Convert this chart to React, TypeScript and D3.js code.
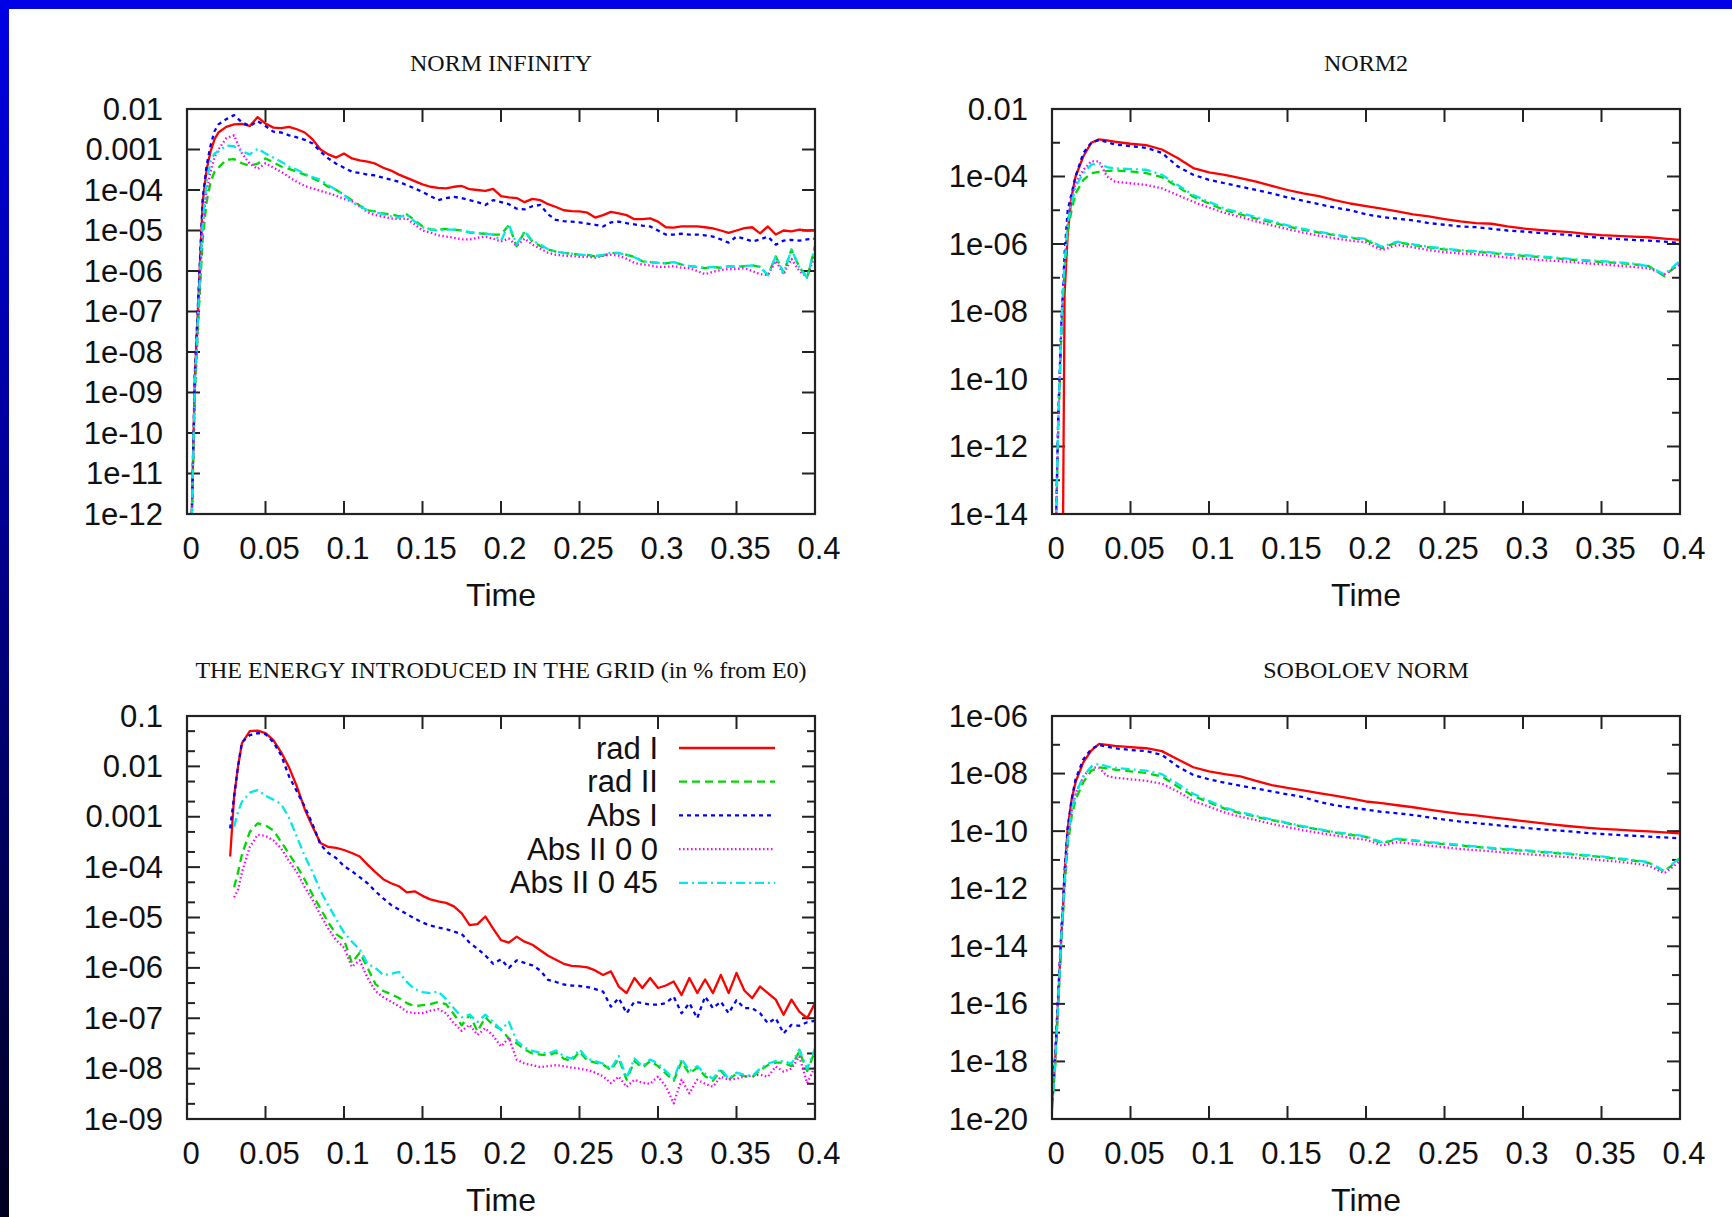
import React from 'react';
import * as d3 from 'd3';

// values are stored as log10 of the plotted quantity

const normInfTime = [
  0.0025, 0.005, 0.0075, 0.01, 0.0125, 0.015, 0.0175,
  0.02, 0.025, 0.03, 0.035, 0.04, 0.045, 0.05, 0.055, 0.06, 0.065, 0.07, 0.075, 0.08, 0.085, 0.09, 0.095, 0.1,
  0.105, 0.11, 0.115, 0.12, 0.125, 0.13, 0.135, 0.14, 0.145, 0.15, 0.155, 0.16, 0.165, 0.17, 0.175, 0.18, 0.185, 0.19, 0.195, 0.2,
  0.205, 0.21, 0.215, 0.22, 0.225, 0.23, 0.235, 0.24, 0.245, 0.25, 0.255, 0.26, 0.265, 0.27, 0.275, 0.28, 0.285, 0.29, 0.295, 0.3,
  0.305, 0.31, 0.315, 0.32, 0.325, 0.33, 0.335, 0.34, 0.345, 0.35, 0.355, 0.36, 0.365, 0.37, 0.375, 0.38, 0.385, 0.39, 0.395, 0.4,
];
const normInfRadI = [
  -13, -8.6, -6.5, -4.3, -3.5, -3.05, -2.75,
  -2.58, -2.44, -2.38, -2.37, -2.42, -2.2, -2.36, -2.46, -2.47, -2.44, -2.5, -2.58, -2.75, -3.0, -3.12, -3.2, -3.1,
  -3.22, -3.27, -3.3, -3.35, -3.45, -3.52, -3.62, -3.7, -3.78, -3.86, -3.92, -3.95, -3.96, -3.92, -3.9, -3.98, -4.0, -4.02, -3.97, -4.15,
  -4.18, -4.2, -4.3, -4.22, -4.25, -4.35, -4.42, -4.5, -4.52, -4.53, -4.56, -4.68, -4.62, -4.54, -4.58, -4.62, -4.72, -4.72, -4.7, -4.78,
  -4.92, -4.93, -4.9, -4.9, -4.9, -4.92, -4.95, -5.0, -5.06, -5.0, -4.94, -4.92, -5.07, -4.9, -5.1, -5.0, -5.02, -4.98, -5.0, -4.99,
];
const normInfRadII = [
  -13, -9, -7, -5.2, -4.3, -3.8, -3.55,
  -3.45, -3.25, -3.24, -3.34, -3.4, -3.35, -3.22, -3.32, -3.42, -3.48, -3.55, -3.62, -3.71, -3.8, -3.92, -4.0, -4.12,
  -4.25, -4.38, -4.5, -4.53, -4.58, -4.6, -4.65, -4.6, -4.75, -4.9, -4.97, -4.98, -4.96, -4.98, -5.0, -5.05, -5.07, -5.08, -5.1, -5.1,
  -4.87, -5.39, -5.03, -5.27, -5.38, -5.47, -5.52, -5.55, -5.57, -5.6, -5.6, -5.64, -5.62, -5.56, -5.55, -5.6, -5.65, -5.76, -5.78, -5.8,
  -5.81, -5.78, -5.84, -5.88, -5.9, -5.93, -5.9, -5.92, -5.88, -5.9, -5.88, -5.86, -5.9, -6.1, -5.64, -6.05, -5.47, -5.9, -6.17, -5.39,
];
const normInfAbsI = [
  -13, -8.5, -6.4, -4.2, -3.4, -2.9, -2.55,
  -2.38, -2.25, -2.15, -2.33, -2.42, -2.3, -2.42, -2.56, -2.58, -2.65, -2.7, -2.76, -2.85, -3.05, -3.22, -3.35, -3.45,
  -3.55, -3.58, -3.62, -3.64, -3.7, -3.75, -3.8, -3.88, -3.96, -4.05, -4.15, -4.25, -4.2, -4.17, -4.2, -4.25, -4.3, -4.37, -4.25, -4.3,
  -4.35, -4.46, -4.48, -4.4, -4.37, -4.6, -4.74, -4.77, -4.78, -4.8, -4.83, -4.86, -4.9, -4.8, -4.78, -4.82, -4.85, -4.88, -4.9, -5.0,
  -5.1, -5.1, -5.08, -5.1, -5.1, -5.12, -5.15, -5.22, -5.3, -5.15, -5.2, -5.27, -5.22, -5.15, -5.35, -5.25, -5.23, -5.25, -5.22, -5.2,
];
const normInfAbsII00 = [
  -13, -9, -6.9, -4.9, -4.0, -3.55, -3.2,
  -3.0, -2.72, -2.65, -3.1, -3.35, -3.48, -3.34, -3.45, -3.55, -3.68, -3.8, -3.9, -3.96, -4.02, -4.08, -4.14, -4.22,
  -4.28, -4.4, -4.55, -4.62, -4.66, -4.7, -4.72, -4.7, -4.85, -5.0, -5.05, -5.12, -5.15, -5.18, -5.22, -5.22, -5.18, -5.15, -5.2, -5.27,
  -5.2, -5.38, -5.2, -5.35, -5.45, -5.55, -5.6, -5.62, -5.63, -5.65, -5.65, -5.67, -5.62, -5.6, -5.62, -5.7, -5.8, -5.84, -5.86, -5.9,
  -5.9, -5.88, -5.92, -5.93, -6.0, -6.08, -6.02, -5.98, -5.95, -5.95, -5.93, -6.0, -6.08, -6.1, -5.75, -6.08, -5.7, -6.0, -6.15, -5.6,
];
const normInfAbsII045 = [
  -13, -8.8, -6.7, -4.8, -3.8, -3.3, -3.1,
  -3.05, -2.9, -2.92, -3.05, -3.12, -2.98, -3.1, -3.2, -3.3, -3.42, -3.5, -3.6, -3.68, -3.75, -3.88, -4.0, -4.12,
  -4.3, -4.4, -4.5, -4.55, -4.6, -4.65, -4.68, -4.6, -4.78, -4.92, -4.98, -5.0, -4.98, -4.98, -5.0, -5.04, -5.06, -5.08, -5.1, -5.25,
  -4.85, -5.35, -5.02, -5.25, -5.35, -5.46, -5.52, -5.55, -5.57, -5.6, -5.6, -5.63, -5.6, -5.55, -5.56, -5.6, -5.66, -5.76, -5.78, -5.8,
  -5.81, -5.78, -5.84, -5.88, -5.9, -5.92, -5.9, -5.92, -5.88, -5.9, -5.88, -5.86, -5.9, -6.1, -5.64, -6.05, -5.47, -5.9, -6.17, -5.39,
];

const smoothTime = [
  0, 0.002, 0.004, 0.006, 0.007, 0.008, 0.01, 0.0125, 0.015, 0.02, 0.025, 0.03, 0.035, 0.04,
  0.05, 0.06, 0.07, 0.08, 0.09, 0.1,
  0.11, 0.12, 0.13, 0.14, 0.15, 0.16, 0.17, 0.18, 0.19, 0.2,
  0.21, 0.22, 0.23, 0.24, 0.25, 0.26, 0.27, 0.28, 0.29, 0.3,
  0.31, 0.32, 0.33, 0.34, 0.35, 0.36, 0.37, 0.38, 0.39, 0.4,
];
const norm2RadI = [
  -16, -16, -16, -16, -14.5, -7.5, -5.7, -4.6, -4.0, -3.4, -3.0, -2.9, -2.93, -2.97,
  -3.03, -3.07, -3.2, -3.45, -3.75, -3.88,
  -3.95, -4.05, -4.15, -4.28, -4.4, -4.5, -4.58, -4.7, -4.8, -4.88,
  -4.95, -5.03, -5.12, -5.18, -5.26, -5.33, -5.38, -5.4, -5.48, -5.54,
  -5.58, -5.62, -5.65, -5.7, -5.74, -5.76, -5.78, -5.8, -5.84, -5.88,
];
const norm2RadII = [
  -16, -15.5, -11.5, -8.6, -7.6, -6.8, -5.6, -5.0, -4.5, -4.1, -3.9, -3.86, -3.84, -3.82,
  -3.85, -3.9, -4.02, -4.3, -4.6, -4.8,
  -5.0, -5.12, -5.25, -5.36, -5.48, -5.58, -5.66, -5.74, -5.82, -5.88,
  -6.12, -5.95, -6.03, -6.1, -6.16, -6.2, -6.23, -6.27, -6.31, -6.35,
  -6.38, -6.42, -6.46, -6.5, -6.53, -6.56, -6.6, -6.65, -6.95, -6.55,
];
const norm2AbsI = [
  -16, -15.5, -11, -8.3, -7.3, -6.3, -5.0, -4.5, -4.0, -3.3, -3.0, -2.92, -2.98, -3.05,
  -3.1, -3.15, -3.3, -3.7, -3.95, -4.1,
  -4.2, -4.3, -4.4, -4.5, -4.62, -4.72, -4.82, -4.92, -5.0, -5.12,
  -5.2, -5.25, -5.3, -5.38, -5.43, -5.48, -5.5, -5.55, -5.6, -5.63,
  -5.67, -5.7, -5.74, -5.78, -5.82, -5.85, -5.88, -5.9, -5.93, -5.97,
];
const norm2AbsII00 = [
  -16, -15.5, -11.3, -8.5, -7.5, -6.6, -5.3, -4.6, -4.2, -3.8, -3.55, -3.55, -4.0, -4.15,
  -4.2, -4.25, -4.35, -4.55, -4.75, -4.92,
  -5.08, -5.2, -5.33, -5.45, -5.56, -5.66, -5.75, -5.83, -5.9, -5.95,
  -6.18, -6.03, -6.1, -6.18, -6.24, -6.28, -6.3, -6.35, -6.4, -6.43,
  -6.47, -6.5, -6.53, -6.57, -6.6, -6.64, -6.68, -6.72, -6.9, -6.6,
];
const norm2AbsII045 = [
  -16, -15.5, -11.2, -8.4, -7.4, -6.6, -5.4, -4.8, -4.3, -3.9, -3.65, -3.62, -3.72, -3.76,
  -3.78, -3.8, -3.95, -4.25, -4.55, -4.75,
  -4.95, -5.08, -5.2, -5.32, -5.45, -5.55, -5.64, -5.72, -5.8, -5.85,
  -6.08, -5.93, -6.01, -6.08, -6.14, -6.18, -6.21, -6.25, -6.29, -6.33,
  -6.36, -6.4, -6.44, -6.48, -6.51, -6.54, -6.58, -6.66, -6.9, -6.5,
];

const sobolevRadI = [
  -19.5, -18.0, -15.8, -13.6, -12.7, -11.5, -9.9, -8.9, -8.3, -7.6, -7.2, -6.97, -7.0, -7.04,
  -7.08, -7.12, -7.22, -7.5, -7.78, -7.92,
  -8.02, -8.1, -8.25, -8.4, -8.5, -8.58, -8.68, -8.77, -8.86, -8.97,
  -9.03, -9.1, -9.17, -9.25, -9.33, -9.4, -9.45, -9.52, -9.58, -9.65,
  -9.71, -9.77, -9.83, -9.88, -9.92, -9.95, -9.98, -10.01, -10.04, -10.08,
];
const sobolevRadII = [
  -19.6, -18.2, -16.0, -13.8, -12.9, -12.0, -10.5, -9.5, -8.9, -8.3, -7.9, -7.78, -7.82, -7.86,
  -7.92, -7.98, -8.1, -8.45, -8.78, -9.0,
  -9.22, -9.38, -9.5, -9.62, -9.73, -9.85, -9.95, -10.05, -10.13, -10.2,
  -10.42, -10.28, -10.33, -10.4, -10.45, -10.5, -10.55, -10.6, -10.64, -10.68,
  -10.72, -10.76, -10.8, -10.85, -10.9, -10.96, -11.02, -11.1, -11.4, -10.95,
];
const sobolevAbsI = [
  -19.4, -17.8, -15.6, -13.4, -12.5, -11.4, -9.9, -8.9, -8.2, -7.5, -7.15, -7.0, -7.07, -7.12,
  -7.18, -7.22, -7.35, -7.75, -8.05, -8.2,
  -8.32, -8.42, -8.52, -8.62, -8.72, -8.82, -8.98, -9.1, -9.18, -9.25,
  -9.33, -9.38, -9.44, -9.52, -9.6, -9.67, -9.72, -9.77, -9.83, -9.88,
  -9.93, -9.97, -10.01, -10.06, -10.1, -10.13, -10.16, -10.19, -10.22, -10.25,
];
const sobolevAbsII00 = [
  -19.0, -17.9, -15.8, -13.6, -12.7, -11.8, -10.3, -9.3, -8.7, -8.1, -7.78, -7.8, -8.08, -8.14,
  -8.2, -8.25, -8.35, -8.62, -8.95, -9.15,
  -9.35, -9.5, -9.62, -9.75, -9.86, -9.97, -10.06, -10.15, -10.23, -10.3,
  -10.5, -10.38, -10.44, -10.5, -10.56, -10.62, -10.66, -10.7, -10.75, -10.79,
  -10.83, -10.87, -10.91, -10.96, -11.01, -11.06, -11.12, -11.2, -11.46, -11.05,
];
const sobolevAbsII045 = [
  -19.7, -18.1, -15.9, -13.6, -12.7, -11.8, -10.3, -9.3, -8.7, -8.1, -7.75, -7.66, -7.75, -7.8,
  -7.85, -7.9, -8.02, -8.35, -8.7, -8.95,
  -9.18, -9.34, -9.47, -9.6, -9.71, -9.83, -9.93, -10.03, -10.1, -10.18,
  -10.38, -10.26, -10.31, -10.38, -10.43, -10.48, -10.53, -10.58, -10.62, -10.66,
  -10.7, -10.74, -10.78, -10.83, -10.88, -10.94, -11.0, -11.08, -11.38, -10.92,
];

const energyTime = [
  0.0275, 0.03, 0.0325, 0.035,
  0.04, 0.045, 0.05, 0.055, 0.06, 0.065, 0.07, 0.075, 0.08, 0.085, 0.09, 0.095, 0.1,
  0.105, 0.11, 0.115, 0.12, 0.125, 0.13, 0.135, 0.14, 0.145, 0.15, 0.155, 0.16, 0.165, 0.17, 0.175, 0.18, 0.185, 0.19, 0.195, 0.2,
  0.205, 0.21, 0.215, 0.22, 0.225, 0.23, 0.235, 0.24, 0.245, 0.25, 0.255, 0.26, 0.265, 0.27, 0.275, 0.28, 0.285, 0.29, 0.295, 0.3,
  0.305, 0.31, 0.315, 0.32, 0.325, 0.33, 0.335, 0.34, 0.345, 0.35, 0.355, 0.36, 0.365, 0.37, 0.375, 0.38, 0.385, 0.39, 0.395, 0.4,
];
const energyRadI = [
  -3.79, -2.6, -2.0, -1.54,
  -1.3, -1.29, -1.34, -1.48, -1.72, -2.02, -2.4, -2.85, -3.2, -3.52, -3.6, -3.62, -3.66,
  -3.72, -3.79, -3.95, -4.1, -4.24, -4.32, -4.38, -4.5, -4.48, -4.57, -4.64, -4.68, -4.71, -4.78, -4.92, -5.15, -5.13, -4.98, -5.22, -5.45,
  -5.5, -5.38, -5.48, -5.54, -5.65, -5.76, -5.84, -5.92, -5.96, -5.97, -5.99, -6.05, -6.14, -6.07, -6.37, -6.5, -6.2, -6.4, -6.2, -6.4,
  -6.35, -6.27, -6.54, -6.2, -6.5, -6.23, -6.5, -6.14, -6.5, -6.1, -6.45, -6.6, -6.37, -6.5, -6.63, -6.93, -6.63, -6.87, -7.0, -6.7,
];
const energyRadII = [
  null, -4.4, -4.1, -3.75,
  -3.3, -3.13, -3.17, -3.27, -3.5, -3.74, -3.98, -4.25, -4.55, -4.82, -5.1, -5.33, -5.44,
  -5.9, -5.7, -6.0, -6.32, -6.46, -6.52, -6.6, -6.7, -6.76, -6.74, -6.72, -6.68, -6.72, -6.92, -7.14, -6.93, -7.26, -6.98, -7.14, -7.22,
  -7.4, -7.5, -7.62, -7.7, -7.72, -7.74, -7.68, -7.8, -7.85, -7.66, -7.84, -7.88, -7.92, -8.03, -7.8, -8.22, -7.85, -7.98, -7.85, -7.95,
  -8.1, -8.24, -7.86, -8.1, -7.98, -8.15, -8.24, -8.04, -8.22, -8.1, -8.15, -8.17, -8.03, -7.93, -7.88, -7.88, -7.95, -7.66, -8.05, -7.65,
];
const energyAbsI = [
  -3.23, -2.6, -2.0, -1.52,
  -1.38, -1.34, -1.36, -1.52, -1.78, -2.2, -2.5, -2.8, -3.15, -3.55, -3.72, -3.82, -3.98,
  -4.08, -4.2, -4.32, -4.48, -4.62, -4.75, -4.84, -4.93, -5.02, -5.1, -5.16, -5.2, -5.23, -5.28, -5.33, -5.5, -5.62, -5.75, -5.92, -5.83,
  -6.0, -5.85, -5.9, -5.95, -6.05, -6.24, -6.28, -6.33, -6.35, -6.36, -6.38, -6.42, -6.47, -6.77, -6.6, -6.9, -6.67, -6.7, -6.73, -6.73,
  -6.7, -6.57, -6.9, -6.7, -7.0, -6.57, -6.8, -6.67, -6.9, -6.64, -6.8, -6.8, -6.9, -7.1, -7.0, -7.3, -7.13, -7.15, -7.08, -7.05,
];
const energyAbsII00 = [
  null, -4.6, -4.45, -4.1,
  -3.6, -3.36, -3.38, -3.47, -3.63, -3.88, -4.1, -4.4, -4.65, -4.95, -5.22, -5.45, -5.6,
  -5.98, -5.85, -6.2, -6.46, -6.58, -6.67, -6.76, -6.87, -6.9, -6.9, -6.85, -6.82, -6.9, -7.1, -7.25, -7.13, -7.33, -7.2, -7.35, -7.56,
  -7.39, -7.82, -7.9, -7.93, -7.97, -7.95, -7.93, -7.95, -7.98, -8.0, -8.03, -8.08, -8.15, -8.29, -8.16, -8.36, -8.22, -8.28, -8.3, -8.16,
  -8.35, -8.69, -8.22, -8.49, -8.22, -8.3, -8.36, -8.16, -8.22, -8.2, -8.16, -8.14, -8.12, -8.16, -7.96, -8.06, -8.0, -7.76, -8.29, -7.96,
];
const energyAbsII045 = [
  null, -3.2, -2.9, -2.7,
  -2.52, -2.47, -2.58, -2.66, -2.75, -3.02, -3.4, -3.78, -4.1, -4.47, -4.76, -5.03, -5.3,
  -5.48, -5.63, -5.92, -6.0, -6.14, -6.12, -6.08, -6.28, -6.42, -6.48, -6.5, -6.47, -6.62, -6.8, -6.98, -6.93, -7.07, -6.93, -7.07, -7.23,
  -7.07, -7.45, -7.58, -7.65, -7.68, -7.7, -7.64, -7.75, -7.8, -7.62, -7.8, -7.85, -7.9, -8.0, -7.75, -8.18, -7.8, -7.95, -7.82, -7.9,
  -8.05, -8.2, -7.8, -8.05, -7.95, -8.1, -8.2, -8.0, -8.2, -8.08, -8.12, -8.15, -8.0, -7.9, -7.85, -7.85, -7.9, -7.62, -8.0, -7.6,
];

const seriesNames = ['rad I', 'rad II', 'Abs I', 'Abs II 0 0', 'Abs II 0 45'];
const seriesColors = ['#ff0000', '#00d800', '#0000ff', '#ff00ff', '#00e8e8'];
const seriesDashes = ['none', '8 5', '4 4', '1.5 2.5', '9 4 2 4'];

const xTickValues = [0, 0.05, 0.1, 0.15, 0.2, 0.25, 0.3, 0.35, 0.4];
const xTickLabels = ['0', '0.05', '0.1', '0.15', '0.2', '0.25', '0.3', '0.35', '0.4'];

const normInfYTicks = [1e-2, 1e-3, 1e-4, 1e-5, 1e-6, 1e-7, 1e-8, 1e-9, 1e-10, 1e-11, 1e-12];
const normInfYLabels = ['0.01', '0.001', '1e-04', '1e-05', '1e-06', '1e-07', '1e-08', '1e-09', '1e-10', '1e-11', '1e-12'];
const norm2YTicks = [1e-2, 1e-4, 1e-6, 1e-8, 1e-10, 1e-12, 1e-14];
const norm2YLabels = ['0.01', '1e-04', '1e-06', '1e-08', '1e-10', '1e-12', '1e-14'];
const energyYTicks = [1e-1, 1e-2, 1e-3, 1e-4, 1e-5, 1e-6, 1e-7, 1e-8, 1e-9];
const energyYLabels = ['0.1', '0.01', '0.001', '1e-04', '1e-05', '1e-06', '1e-07', '1e-08', '1e-09'];
const sobolevYTicks = [1e-6, 1e-8, 1e-10, 1e-12, 1e-14, 1e-16, 1e-18, 1e-20];
const sobolevYLabels = ['1e-06', '1e-08', '1e-10', '1e-12', '1e-14', '1e-16', '1e-18', '1e-20'];

const SANS = 'Liberation Sans, Arial, Helvetica, sans-serif';
const SERIF = 'Liberation Serif, Times New Roman, serif';

type PanelProps = {
  id: string;
  left: number; right: number; top: number; bottom: number;
  title: string;
  time: number[];
  series: (number | null)[][];
  yDomain: [number, number];
  yTicks: number[];
  yLabels: string[];
  yMinor: number[];
  legend?: boolean;
};

function Panel(props: PanelProps) {
  const { id, left, right, top, bottom, title, time, series, yDomain, yTicks, yLabels, yMinor, legend } = props;
  const x = d3.scaleLinear().domain([0, 0.4]).range([left, right]);
  const y = d3.scaleLog().domain(yDomain).range([bottom, top]);
  const line = d3
    .line<[number, number | null]>()
    .defined((d) => d[1] !== null)
    .x((d) => x(d[0]))
    .y((d) => y(Math.pow(10, d[1] as number)));
  const cx = (left + right) / 2;
  const tickLen = 13;
  const minorLen = 8;
  const frame = '#222';

  return (
    <g>
      <defs>
        <clipPath id={`clip-${id}`}>
          <rect x={left} y={top} width={right - left} height={bottom - top} />
        </clipPath>
      </defs>
      <text x={cx} y={top - 46} textAnchor="middle" dominantBaseline="central"
        fontFamily={SERIF} fontSize={24} fill="#111">{title}</text>

      {yTicks.map((v, i) => (
        <g key={`yt${i}`}>
          <line x1={left} x2={left + tickLen} y1={y(v)} y2={y(v)} stroke={frame} strokeWidth={2} />
          <line x1={right - tickLen} x2={right} y1={y(v)} y2={y(v)} stroke={frame} strokeWidth={2} />
          <text x={left - 24} y={y(v)} textAnchor="end" dominantBaseline="central"
            fontFamily={SANS} fontSize={31} fill="#111">{yLabels[i]}</text>
        </g>
      ))}
      {yMinor.map((v, i) => (
        <g key={`ym${i}`}>
          <line x1={left} x2={left + minorLen} y1={y(v)} y2={y(v)} stroke={frame} strokeWidth={2} />
          <line x1={right - minorLen} x2={right} y1={y(v)} y2={y(v)} stroke={frame} strokeWidth={2} />
        </g>
      ))}
      {xTickValues.map((v, i) => (
        <g key={`xt${i}`}>
          <line x1={x(v)} x2={x(v)} y1={bottom} y2={bottom - tickLen} stroke={frame} strokeWidth={2} />
          <line x1={x(v)} x2={x(v)} y1={top} y2={top + tickLen} stroke={frame} strokeWidth={2} />
          <text x={x(v) + 4} y={bottom + 34} textAnchor="middle" dominantBaseline="central"
            fontFamily={SANS} fontSize={31} fill="#111">{xTickLabels[i]}</text>
        </g>
      ))}
      <text x={cx} y={bottom + 81} textAnchor="middle" dominantBaseline="central"
        fontFamily={SANS} fontSize={32} fill="#111">Time</text>

      <g clipPath={`url(#clip-${id})`}>
        {series.map((vals, k) => (
          <path key={`s${k}`}
            d={line(time.map((t, j) => [t, vals[j]] as [number, number | null])) || ''}
            fill="none" stroke={seriesColors[k]} strokeWidth={2.3}
            strokeDasharray={seriesDashes[k]} strokeLinejoin="round" />
        ))}
      </g>

      {legend && seriesNames.map((name, k) => {
        const ly = top + 32 + k * 33.7;
        return (
          <g key={`lg${k}`}>
            <text x={left + 471} y={ly} textAnchor="end" dominantBaseline="central"
              fontFamily={SANS} fontSize={31} fill="#111">{name}</text>
            <line x1={left + 492} x2={left + 588} y1={ly} y2={ly}
              stroke={seriesColors[k]} strokeWidth={2.3} strokeDasharray={seriesDashes[k]} />
          </g>
        );
      })}

      <rect x={left} y={top} width={right - left} height={bottom - top}
        fill="none" stroke={frame} strokeWidth={2.2} />
    </g>
  );
}

export default function App() {
  const W = 1732;
  const H = 1217;
  const oddDecades = (lo: number, hi: number) =>
    d3.range(lo, hi + 1).filter((e) => Math.abs(e) % 2 === 1).map((e) => Math.pow(10, e));
  const energyMinor = energyYTicks.slice(1).flatMap((v) => [2 * v, 5 * v]);

  return (
    <svg width={W} height={H} style={{ position: 'absolute', left: 0, top: 0, display: 'block' }}>
      <defs>
        <linearGradient id="side" x1="0" y1="0" x2="0" y2="1">
          <stop offset="0" stopColor="#0000e6" />
          <stop offset="1" stopColor="#000020" />
        </linearGradient>
      </defs>
      <rect x={0} y={0} width={W} height={H} fill="#ffffff" />
      <rect x={0} y={0} width={W} height={9} fill="#0000e6" />
      <rect x={0} y={0} width={9} height={H} fill="url(#side)" />

      <Panel id="ninf" left={187} right={815} top={109} bottom={514}
        title="NORM INFINITY" time={normInfTime}
        series={[normInfRadI, normInfRadII, normInfAbsI, normInfAbsII00, normInfAbsII045]}
        yDomain={[1e-12, 1e-2]} yTicks={normInfYTicks} yLabels={normInfYLabels} yMinor={[]} />
      <Panel id="n2" left={1052} right={1680} top={109} bottom={514}
        title="NORM2" time={smoothTime}
        series={[norm2RadI, norm2RadII, norm2AbsI, norm2AbsII00, norm2AbsII045]}
        yDomain={[1e-14, 1e-2]} yTicks={norm2YTicks} yLabels={norm2YLabels} yMinor={oddDecades(-13, -3)} />
      <Panel id="en" left={187} right={815} top={716} bottom={1119}
        title="THE ENERGY INTRODUCED IN THE GRID (in % from E0)" time={energyTime}
        series={[energyRadI, energyRadII, energyAbsI, energyAbsII00, energyAbsII045]}
        yDomain={[1e-9, 1e-1]} yTicks={energyYTicks} yLabels={energyYLabels} yMinor={energyMinor} legend />
      <Panel id="sob" left={1052} right={1680} top={716} bottom={1119}
        title="SOBOLOEV NORM" time={smoothTime}
        series={[sobolevRadI, sobolevRadII, sobolevAbsI, sobolevAbsII00, sobolevAbsII045]}
        yDomain={[1e-20, 1e-6]} yTicks={sobolevYTicks} yLabels={sobolevYLabels} yMinor={oddDecades(-19, -7)} />
    </svg>
  );
}
